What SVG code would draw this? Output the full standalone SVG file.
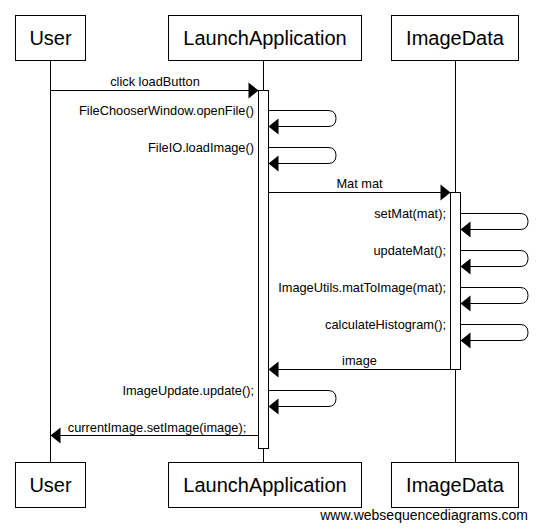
<svg xmlns="http://www.w3.org/2000/svg" width="537" height="531" viewBox="0 0 537 531">
<defs>
<style>
.box{fill:#fff;stroke:#000;stroke-width:1}
.life{stroke:#000;stroke-width:1;fill:none}
.act{fill:#fff;stroke:#000;stroke-width:1}
.msg{stroke:#000;stroke-width:1;fill:none}
.head{fill:#000;stroke:none}
.actor{font-family:"Liberation Sans",Arial,sans-serif;font-size:20px;fill:#000;text-anchor:middle}
.lbl{font-family:"Liberation Sans",Arial,sans-serif;font-size:12.8px;fill:#000}
.mid{text-anchor:middle}
.end{text-anchor:end}
.wm{font-family:"Liberation Sans",Arial,sans-serif;font-size:14px;fill:#000;text-anchor:end}
</style>
</defs>
<rect width="537" height="531" fill="#fff"/>
<g id="lifelines">
<line class="life" x1="50.5" y1="60.5" x2="50.5" y2="462.5"/>
<line class="life" x1="263.5" y1="60.5" x2="263.5" y2="462.5"/>
<line class="life" x1="455.5" y1="60.5" x2="455.5" y2="462.5"/>
</g>
<g id="User">
<rect class="box" x="15.5" y="15.5" width="70" height="45"/>
<text class="actor" x="50.5" y="45">User</text>
</g>
<g id="LaunchApplication">
<rect class="box" x="168.5" y="15.5" width="193" height="45"/>
<text class="actor" x="265" y="45">LaunchApplication</text>
</g>
<g id="ImageData">
<rect class="box" x="391.5" y="15.5" width="127" height="45"/>
<text class="actor" x="455" y="45">ImageData</text>
</g>
<g id="User-bottom">
<rect class="box" x="15.5" y="462.5" width="70" height="45"/>
<text class="actor" x="50.5" y="492">User</text>
</g>
<g id="LaunchApplication-bottom">
<rect class="box" x="168.5" y="462.5" width="193" height="45"/>
<text class="actor" x="265" y="492">LaunchApplication</text>
</g>
<g id="ImageData-bottom">
<rect class="box" x="391.5" y="462.5" width="127" height="45"/>
<text class="actor" x="455" y="492">ImageData</text>
</g>
<g id="activations">
<rect class="act" x="258.5" y="90.5" width="10" height="358"/>
<rect class="act" x="450.5" y="192.5" width="10" height="177"/>
</g>
<g id="connectors">
<line class="msg" x1="50.5" y1="90.5" x2="250" y2="90.5"/>
<polygon class="head" points="258.5,90.5 248.5,82.5 248.5,98.5"/>
<text class="lbl mid" x="155" y="86">click loadButton</text>

<path class="msg" d="M268.5,110.5 H328 Q336,110.5 336,118.5 Q336,126.5 328,126.5 H276"/>
<polygon class="head" points="268.5,126.5 278.5,118.5 278.5,134.5"/>
<text class="lbl end" x="254" y="115">FileChooserWindow.openFile()</text>

<path class="msg" d="M268.5,147.5 H328 Q336,147.5 336,155.5 Q336,163.5 328,163.5 H276"/>
<polygon class="head" points="268.5,163.5 278.5,155.5 278.5,171.5"/>
<text class="lbl end" x="254" y="152">FileIO.loadImage()</text>

<line class="msg" x1="268.5" y1="192.5" x2="442" y2="192.5"/>
<polygon class="head" points="450.5,192.5 440.5,184.5 440.5,200.5"/>
<text class="lbl mid" x="359.5" y="188">Mat mat</text>

<path class="msg" d="M460.5,213.5 H520 Q528,213.5 528,221.5 Q528,229.5 520,229.5 H468"/>
<polygon class="head" points="460.5,229.5 470.5,221.5 470.5,237.5"/>
<text class="lbl end" x="446" y="218">setMat(mat);</text>

<path class="msg" d="M460.5,250.5 H520 Q528,250.5 528,258.5 Q528,266.5 520,266.5 H468"/>
<polygon class="head" points="460.5,266.5 470.5,258.5 470.5,274.5"/>
<text class="lbl end" x="446" y="255">updateMat();</text>

<path class="msg" d="M460.5,287.5 H520 Q528,287.5 528,295.5 Q528,303.5 520,303.5 H468"/>
<polygon class="head" points="460.5,303.5 470.5,295.5 470.5,311.5"/>
<text class="lbl end" x="446" y="292">ImageUtils.matToImage(mat);</text>

<path class="msg" d="M460.5,324.5 H520 Q528,324.5 528,332.5 Q528,340.5 520,340.5 H468"/>
<polygon class="head" points="460.5,340.5 470.5,332.5 470.5,348.5"/>
<text class="lbl end" x="446" y="329">calculateHistogram();</text>

<line class="msg" x1="450.5" y1="369.5" x2="276" y2="369.5"/>
<polygon class="head" points="268.5,369.5 278.5,361.5 278.5,377.5"/>
<text class="lbl mid" x="359.5" y="365">image</text>

<path class="msg" d="M268.5,390.5 H328 Q336,390.5 336,398.5 Q336,406.5 328,406.5 H276"/>
<polygon class="head" points="268.5,406.5 278.5,398.5 278.5,414.5"/>
<text class="lbl end" x="254" y="395">ImageUpdate.update();</text>

<line class="msg" x1="258.5" y1="435.5" x2="58" y2="435.5"/>
<polygon class="head" points="50.5,435.5 60.5,427.5 60.5,443.5"/>
<text class="lbl mid" x="157" y="432">currentImage.setImage(image);</text>
</g>
<text class="wm" x="528" y="520">www.websequencediagrams.com</text>
</svg>
